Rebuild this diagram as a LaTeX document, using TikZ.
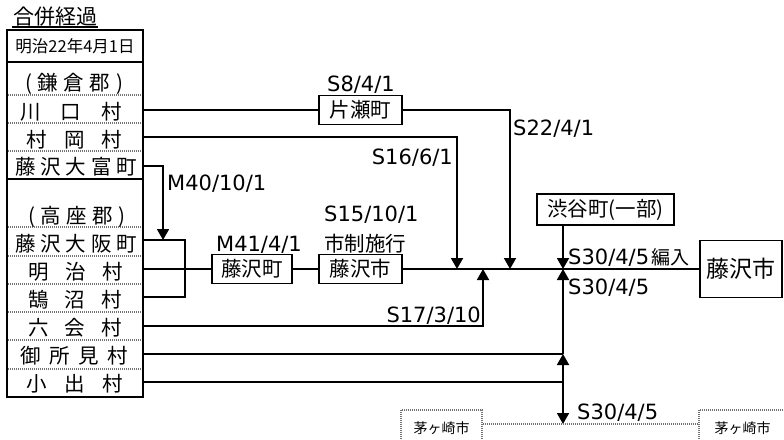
\documentclass[tikz,border=0pt]{standalone}
\usepackage{fontspec}
\setmainfont{Noto Sans CJK JP}
\newfontfamily\lat{DejaVu Sans}
\usetikzlibrary{arrows.meta}
\tikzset{
 conn/.style={line width=1.8pt},
 arr/.style={conn,-{Triangle[width=12pt,length=11pt]}},
 box/.style={draw,line width=1.8pt,inner sep=0pt,font=\fontsize{20.5}{20.5}\selectfont},
 lab/.style={inner sep=0pt,font=\lat\fontsize{21}{21}\selectfont},
 jlab/.style={inner sep=0pt,font=\fontsize{20.5}{20.5}\selectfont},
 rowtxt/.style={inner sep=0pt,font=\fontsize{20.5}{20.5}\selectfont},
 sepline/.style={line width=1.3pt,black!55,dash pattern=on 1pt off 1pt},
 dbox/.style={draw=black!55,line width=1.5pt,dash pattern=on 1pt off 1pt,inner sep=0pt,font=\fontsize{14}{14}\selectfont},
 dline/.style={black!55,line width=1.5pt,dash pattern=on 1pt off 1pt}
}
\newcommand{\spreadtxt}[2]{\makebox[#1pt][s]{#2}}
\begin{document}
\begin{tikzpicture}[x=1pt,y=-1pt]
\clip (0,0) rectangle (784,439);
\fill[white] (0,0) rectangle (784,439);
% title
\node[inner sep=0.5pt,font=\fontsize{21}{21}\selectfont] (title) at (55,16.5) {合併経過};
\draw[line width=1.2pt] (title.south west) -- (title.south east);
% table
\node[draw,line width=2.2pt,minimum width=136pt,minimum height=32pt,inner sep=0pt,font=\fontsize{16.5}{16.5}\selectfont] (hdr) at (75,46) {明治22年4月1日};
\node[draw,line width=2.2pt,minimum width=136pt,minimum height=335pt,inner sep=0pt] (tbl) at (75,229.5) {};
\draw[line width=2pt] (7,179) -- (143,179);
\foreach \yy in {95,123,151,227,256,284,312,340,369} \draw[sepline] (8,\yy) -- (142,\yy);
\node[rowtxt] (r1) at (74,84) {\spreadtxt{98}{( 鎌 倉 郡 )}};
\node[rowtxt] (r2) at (71,112) {\spreadtxt{102}{川 口 村}};
\node[rowtxt] (r3) at (74.5,140) {\spreadtxt{95}{村 岡 村}};
\node[rowtxt] (r4) at (76,167) {\spreadtxt{122}{藤 沢 大 富 町}};
\node[rowtxt] (r5) at (76.5,217) {\spreadtxt{97}{( 高 座 郡 )}};
\node[rowtxt] (r6) at (76,244) {\spreadtxt{122}{藤 沢 大 阪 町}};
\node[rowtxt] (r7) at (75.5,272) {\spreadtxt{95}{明 治 村}};
\node[rowtxt] (r8) at (75,300) {\spreadtxt{94}{鵠 沼 村}};
\node[rowtxt] (r9) at (75,328) {\spreadtxt{94}{六 会 村}};
\node[rowtxt] (r10) at (74,356) {\spreadtxt{108}{御 所 見 村}};
\node[rowtxt] (r11) at (75,384) {\spreadtxt{96}{小 出 村}};
% boxes
\node[box,minimum width=83pt,minimum height=29pt] (kata) at (360.5,110) {片瀬町};
\node[box,minimum width=80pt,minimum height=29pt] (fmachi) at (252,269) {藤沢町};
\node[box,minimum width=83pt,minimum height=29pt] (fshi) at (360.5,269) {藤沢市};
\node[box,minimum width=137pt,minimum height=31pt] (shibuya) at (605.5,209.5) {渋谷町(一部)};
\node[box,minimum width=82pt,minimum height=57pt,font=\fontsize{23}{23}\selectfont] (final) at (741,269) {藤沢市};
\node[dbox,minimum width=81pt,minimum height=36pt] (chiL) at (441.5,428) {茅ヶ崎市};
\node[dbox,minimum width=87pt,minimum height=36pt] (chiR) at (742.5,428) {茅ヶ崎市};
% coordinates
\coordinate (kr) at (510,110);
\coordinate (m457) at (457,269);
\coordinate (m483) at (483,269);
\coordinate (m510) at (510,269);
\coordinate (m563) at (563,269);
\coordinate (c137) at (457,137);
\coordinate (c166) at (163,166);
\coordinate (m40) at (163,240);
\coordinate (c240) at (185,240);
\coordinate (c297) at (185,297);
\coordinate (c326) at (483,326);
\coordinate (j354) at (563,354);
\coordinate (j382) at (563,382);
\coordinate (j424) at (563,424);
% connectors
\draw[conn] (tbl.east |- kata) -- (kata);
\draw[arr] (kata) -- (kr) -- (m510);
\draw[arr] (tbl.east |- c137) -- (c137) -- (m457);
\draw[arr] (tbl.east |- c166) -- (c166) -- (m40);
\draw[conn] (tbl.east |- c240) -- (c240) -- (c297) -- (tbl.east |- c297);
\draw[conn] (tbl.east |- fmachi) -- (fmachi);
\draw[conn] (fmachi) -- (fshi);
\draw[conn] (fshi) -- (final);
\draw[arr] (tbl.east |- c326) -- (c326) -- (m483);
\draw[arr] (shibuya.south -| m563) -- (m563);
\draw[conn] (tbl.east |- j354) -- (j354);
\draw[conn] (tbl.east |- j382) -- (j382);
\draw[arr] (j382) -- (j354);
\draw[arr] (j354) -- (m563);
\draw[arr] (j382) -- (j424);
\draw[dline] (chiL.east |- j424) -- (chiR.west |- j424);
% labels
\node[lab] (l8) at (361,85) {S8/4/1};
\node[lab,anchor=west] (l22) at (513,129) {S22/4/1};
\node[lab,anchor=east] (l16) at (453,158) {S16/6/1};
\node[lab,anchor=west] (l40) at (167,184) {M40/10/1};
\node[lab] (l41) at (259,245) {M41/4/1};
\node[lab,anchor=west] (l15) at (324,215) {S15/10/1};
\node[jlab,anchor=west] (lsisei) at (324,244) {市制施行};
\node[lab,anchor=east] (l17) at (481,316) {S17/3/10};
\node[anchor=west,inner sep=0pt] (l30a) at (568,257) {{\lat\fontsize{21}{21}\selectfont S30/4/5} {\fontsize{19}{19}\selectfont 編入}};
\node[lab,anchor=west] (l30b) at (568,288) {S30/4/5};
\node[lab,anchor=west] (l30c) at (577,413) {S30/4/5};
\end{tikzpicture}
\end{document}
